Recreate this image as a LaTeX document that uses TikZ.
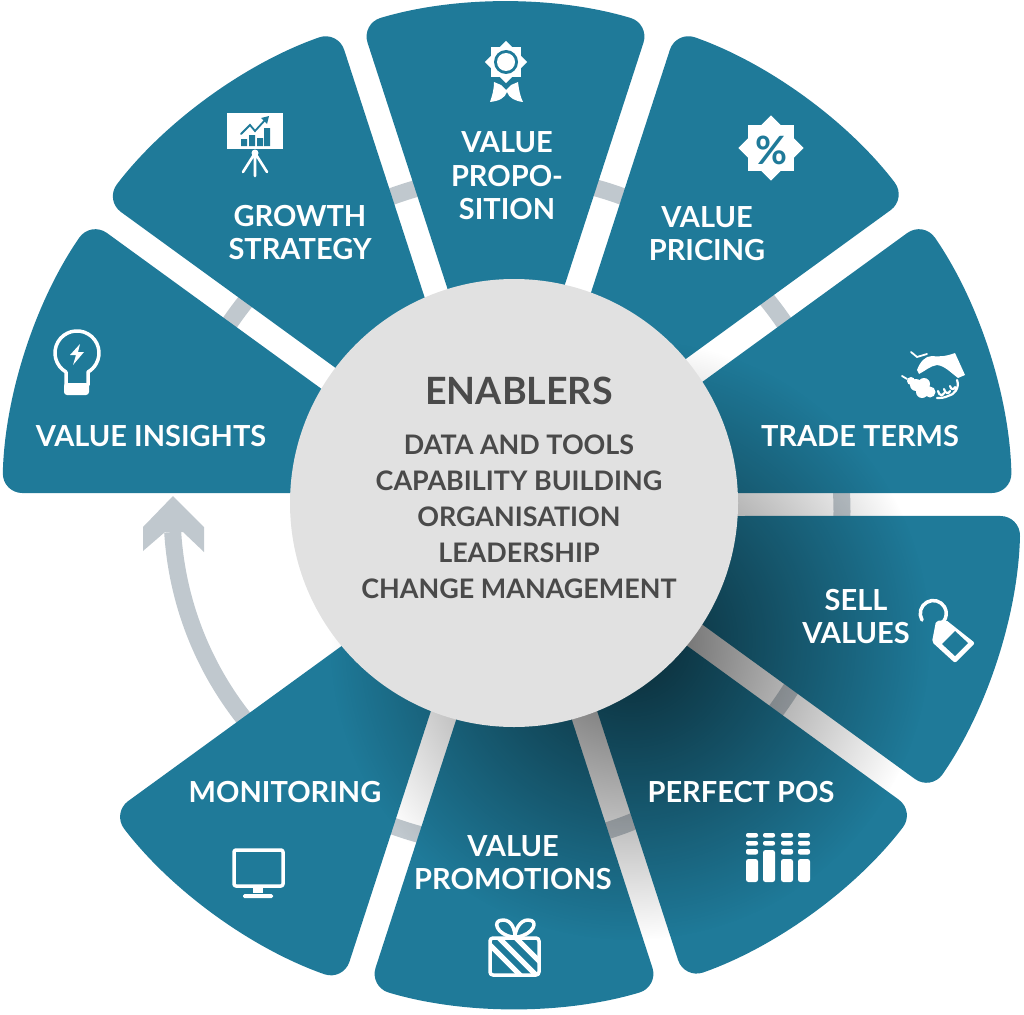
\documentclass[tikz,border=0pt]{standalone}
\usepackage{fontspec}
\setmainfont{Lato}
\usetikzlibrary{fadings}
\definecolor{segteal}{HTML}{1F7A99}
\definecolor{hubgrey}{HTML}{E1E1E1}
\definecolor{bandgrey}{HTML}{C0C8CE}
\definecolor{inkgrey}{HTML}{4A4A4A}
\tikzfading[name=shadowfade, inner color=transparent!35, outer color=transparent!100]
\tikzset{
  seg/.style   ={fill=segteal, rounded corners=20pt},
  lab/.style   ={font=\fontsize{29}{33.5}\selectfont\bfseries, text=white, align=center, inner sep=0pt},
  hubtxt/.style={font=\fontsize{26.9}{36}\selectfont\bfseries, text=inkgrey, align=center, inner sep=0pt},
  band/.style  ={draw=bandgrey, line width=17pt},
  ico/.style   ={draw=white, line width=3.5pt, line cap=round, line join=round},
  icf/.style   ={fill=white},
  cut/.style   ={draw=segteal, line width=1.6pt, line cap=round},
}
% start angle, end angle, outer radius, shift x, shift y
\newcommand{\wedgepiece}[5]{%
  \pgfmathsetmacro{\da}{asin(11.5/#3)}
  \fill[seg, shift={(514+#4,504.5+#5)}] ({(#1+#2)/2}:37.2pt) -- ({#1+\da}:#3pt)
    arc[start angle=#1+\da, end angle=#2-\da, radius=#3pt] -- cycle;
}
% two crossed squares
\newcommand{\starbadge}[3]{%
  \foreach \rr in {0,45}
    \fill[icf, rotate around={\rr:(#1,#2)}] (#1-#3,#2-#3) rectangle (#1+#3,#2+#3);
}
\begin{document}
\begin{tikzpicture}[x=1pt,y=-1pt]
  \useasboundingbox (0,0) rectangle (1024,1014);

  % ring behind the wheel
  \draw[band, shift={(507,511)}] (183.6:335pt) arc[start angle=183.6, end angle=520, radius=335pt];
  \fill[bandgrey] (173,496) -- (204,527) -- (204,552) -- (183,532) -- (165,532) -- (143,551) -- (143,527) -- cycle;

  % wheel pieces
  \wedgepiece{144}{180}{498}{-13.8}{0}
  \wedgepiece{108}{144}{502}{-10}{0}
  \wedgepiece{72}{108}{502}{-8.5}{0}
  \wedgepiece{36}{72}{497}{-2.4}{-4.8}
  \wedgepiece{0}{36}{498}{0}{0}
  \wedgepiece{-36}{0}{503}{3.6}{0}
  \wedgepiece{-72}{-36}{497}{5.8}{5.6}
  \wedgepiece{-108}{-72}{503.5}{0}{0}
  \wedgepiece{-144}{-108}{498}{-6}{6.4}

  % shadow of the hub
  \fill[black, path fading=shadowfade] (630,640) circle[radius=300pt];

  \node[circle, fill=hubgrey, minimum size=448pt, inner sep=0pt](hub) at (514,503){};

  % hub text
  \node[hubtxt, font=\fontsize{37.6}{40}\selectfont\bfseries](enablers) at (519,390.5){ENABLERS};
  \node[hubtxt](dtools) at (519,444.5){DATA AND TOOLS};
  \node[hubtxt](capab)  at (519,480.5){CAPABILITY BUILDING};
  \node[hubtxt](orgn)   at (519,516.5){ORGANISATION};
  \node[hubtxt](leader) at (519,552.5){LEADERSHIP};
  \node[hubtxt](change) at (519,588.5){CHANGE MANAGEMENT};

  % labels
  \node[lab](insights) at (151,436.5){VALUE INSIGHTS};
  \node[lab](growth)   at (300,232.5){GROWTH\\STRATEGY};
  \node[lab](prop)     at (507,176){VALUE\\PROPO-\\SITION};
  \node[lab](pricing)  at (707,233.5){VALUE\\PRICING};
  \node[lab](trade)    at (860,436.5){TRADE TERMS};
  \node[lab](sell)     at (856,616.5){SELL\\VALUES};
  \node[lab](pos)      at (741,792.5){PERFECT POS};
  \node[lab](promo)    at (513,862.5){VALUE\\PROMOTIONS};
  \node[lab](monit)    at (285,792.5){MONITORING};

  % rosette
  \starbadge{506}{62}{15}
  \fill[segteal] (506,62) circle[radius=12pt];
  \fill[icf] (506,62) circle[radius=9pt];
  \fill[icf] (494,82) -- (501,85) -- (506,90) -- (511,85) -- (518,82)
    .. controls (519,90) and (520,96) .. (523,102) .. controls (515,101) and (509,98) .. (507,92)
    .. controls (505,98) and (499,101) .. (490,102) .. controls (492,96) and (494,90) .. cycle;

  % percent badge
  \starbadge{771}{148}{23}
  \node[text=segteal, inner sep=0pt, font=\fontsize{39}{39}\selectfont\bfseries](pct) at (771,150){\%};

  % chart on a stand
  \fill[icf] (227,113) rectangle (283,149);
  \fill[segteal] (241,139) rectangle (247,146) (249,135) rectangle (255,146) (257,138) rectangle (263,146) (264,128) rectangle (270,146);
  \draw[cut, line width=1.8pt] (241,134) -- (250,125) -- (255,131) -- (266,119);
  \fill[segteal] (269,116) -- (261,118) -- (267,124) -- cycle;
  \fill[icf] (255,153) circle[radius=3.5pt];
  \draw[ico, line width=2.6pt] (255,153) -- (243,172) (255,153) -- (255,176) (255,153) -- (267,172);

  % bulb
  \draw[ico] (66,385) -- (66,372) arc[start angle=240, delta angle=-300, radius=22pt] -- (88,385);
  \fill[icf, rounded corners=3pt] (64,383) rectangle (89,395);
  \fill[icf] (80,344) -- (70,355) -- (76,355) -- (73,365) -- (84,352) -- (78,352) -- cycle;

  % handshake
  \fill[icf] (955,353) -- (965,375) -- (958,378) .. controls (950,372) and (945,366) .. (937,365)
    .. controls (930,366) and (925,371) .. (919,374) -- (917,370) .. controls (920,362) and (925,356) .. (932,356)
    .. controls (940,357) and (947,356) .. cycle;
  \fill[icf] (916,385) circle[radius=6pt] (924,384) circle[radius=6pt] (922,392) circle[radius=6pt]
    (930,392) circle[radius=5.5pt] (911,381) circle[radius=4pt];
  \draw[ico, line width=2.2pt] (957,380) .. controls (960,388) and (954,395) .. (948,396) .. controls (944,398) and (940,398) .. (937,398)
    (938,391) .. controls (939,396) and (943,396) .. (944,393) (944,389) .. controls (945,394) and (949,394) .. (950,391) (950,386) .. controls (951,390) and (954,390) .. (955,387);
  \draw[ico, line width=1.8pt] (911,352) -- (917,357) -- (927,354) (902,376) -- (907,379);

  % price tag
  \draw[ico] (922,620) arc[start angle=210, delta angle=-250, radius=13pt];
  \fill[icf, rounded corners=2pt] (936,621) -- (946,620) -- (975,643) -- (955,663) -- (932,642) -- cycle;
  \fill[segteal] (955,631) -- (968,643) -- (955,656) -- (942,644) -- cycle;

  % pos columns
  \foreach \cx/\ctop in {746/859, 763/850, 781/859, 798/859}{
    \fill[icf, rounded corners=2.5pt] (\cx,\ctop) rectangle (\cx+12,882);
    \fill[icf, rounded corners=2pt] (\cx,833) rectangle (\cx+12,837.5);
    \fill[icf, rounded corners=2pt] (\cx,841) rectangle (\cx+12,845.5);
  }
  \fill[icf, rounded corners=2pt] (746,849) rectangle (758,854.5);
  \fill[icf, rounded corners=2pt] (781,849) rectangle (793,854.5);
  \fill[icf, rounded corners=2pt] (798,849) rectangle (810,854.5);

  % gift
  \begin{scope}
    \clip[rounded corners=3pt] (490,938) rectangle (539,975);
    \foreach \sx in {-8,8,25}
      \draw[ico, line cap=butt, line width=5pt] (489+\sx,936) -- (489+\sx+42,978);
  \end{scope}
  \draw[ico, rounded corners=3pt] (490,938) rectangle (539,975);
  \draw[ico] (513,937) .. controls (497,935) and (491,920) .. (503,920) .. controls (512,920) and (515,930) .. (515,937);
  \draw[ico] (515,937) .. controls (515,930) and (520,920) .. (528,920) .. controls (540,920) and (533,935) .. (517,937);

  % monitor
  \draw[ico, rounded corners=2pt] (234,850) rectangle (283,886);
  \fill[icf] (253,887) rectangle (263,893);
  \fill[icf, rounded corners=1.5pt] (243,894) rectangle (273,898);
\end{tikzpicture}
\end{document}
